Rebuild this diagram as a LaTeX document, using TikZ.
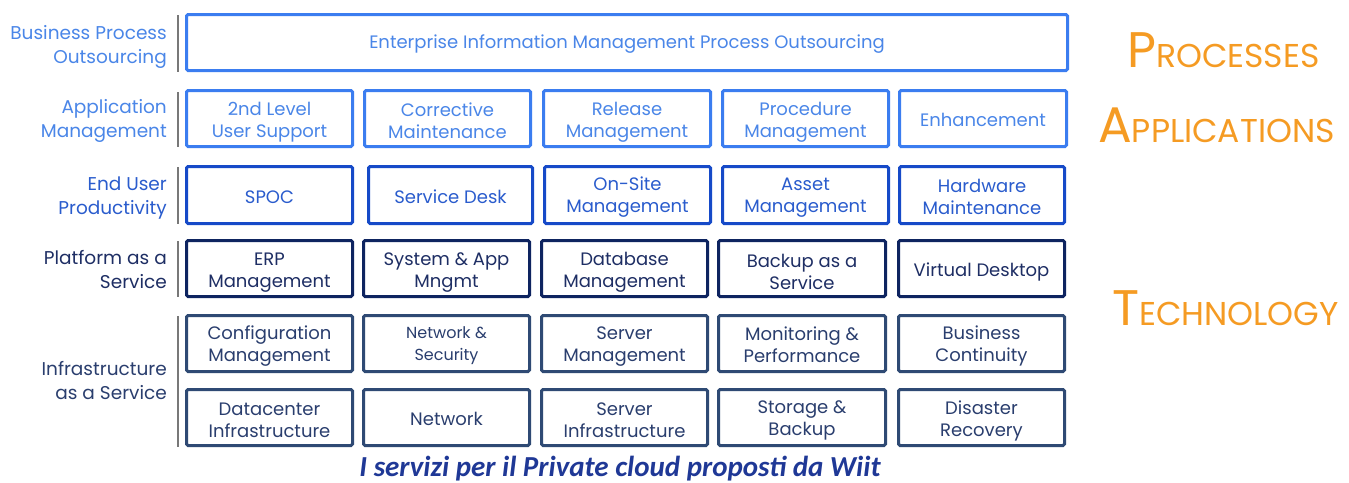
\documentclass[tikz,border=0pt]{standalone}
\usepackage{fontspec}
\setmainfont{Poppins}
\newfontfamily\capfont{Carlito}
\definecolor{bA}{RGB}{59,125,240}
\definecolor{tA}{RGB}{74,134,232}
\definecolor{bB}{RGB}{22,74,200}
\definecolor{tB}{RGB}{42,92,205}
\definecolor{bC}{RGB}{14,36,96}
\definecolor{tC}{RGB}{30,46,100}
\definecolor{bD}{RGB}{47,74,116}
\definecolor{tD}{RGB}{42,62,110}
\definecolor{sep}{RGB}{120,120,120}
\definecolor{orng}{RGB}{245,155,35}
\definecolor{capc}{RGB}{31,56,150}
% #1 name, #2-#5 corners, #6 text, #7 row colour key, #8 text shift down
\newcommand\cell[8]{%
  \node[cellbox,draw=b#7,minimum width={(#4-#2-3)*1pt},minimum height={(#5-#3-3)*1pt}] (#1) at ({(#2+#4)/2},{(#3+#5)/2}) {};
  \node[celltext,text=t#7] (#1t) at ([yshift=-#8pt]#1.center) {#6};}
\newcommand\bigsc[2]{{\fontsize{50}{50}\selectfont #1}{\fontsize{33}{33}\selectfont #2}}
\begin{document}
\begin{tikzpicture}[x=1pt,y=-1pt,
  cellbox/.style={draw,line width=3pt,rounded corners=1.5pt,inner sep=0pt},
  celltext/.style={inner sep=0pt,align=center,font=\fontsize{18}{22}\selectfont},
  sidelabel/.style={anchor=east,align=right,inner sep=0pt,font=\fontsize{18.5}{24}\selectfont},
  sepline/.style={draw=sep,line width=2pt},
  bigword/.style={anchor=base west,inner sep=0pt,text=orng}]
\useasboundingbox[fill=white] (0,0) rectangle (1349,482);
% row 1
\cell{bpo}{185}{13}{1069}{72}{Enterprise Information Management Process Outsourcing}{A}{2}
% row 2
\cell{am1}{185}{89}{354}{148}{2nd Level\\User Support}{A}{4}
\cell{am2}{363}{89}{532}{148}{Corrective\\Maintenance}{A}{2}
\cell{am3}{542}{89}{712}{148}{Release\\Management}{A}{4}
\cell{am4}{721}{89}{890}{148}{Procedure\\Management}{A}{4}
\cell{am5}{898}{89}{1068}{148}{Enhancement}{A}{1}
% row 3
\cell{eu1}{185}{165}{354}{225}{SPOC}{B}{2}
\cell{eu2}{367}{165}{534}{225}{Service Desk}{B}{2}
\cell{eu3}{543}{165}{712}{225}{On-Site\\Management}{B}{2}
\cell{eu4}{721}{165}{890}{225}{Asset\\Management}{B}{3}
\cell{eu5}{898}{165}{1066}{225}{Hardware\\Maintenance}{B}{2}
% row 4
\cell{pa1}{185}{239}{354}{298}{ERP\\Management}{C}{4}
\cell{pa2}{362}{239}{531}{298}{System \& App\\Mngmt}{C}{4}
\cell{pa3}{540}{239}{709}{298}{Database\\Management}{C}{4}
\cell{pa4}{717}{239}{887}{298}{Backup as a\\Service}{C}{3}
\cell{pa5}{897}{239}{1066}{298}{Virtual Desktop}{C}{3}
% row 5
\cell{ia1}{185}{314}{354}{373}{Configuration\\Management}{D}{3}
\cell{ia2}{362}{314}{531}{373}{{\fontsize{16}{21}\selectfont Network \&}\\{\fontsize{16}{21}\selectfont Security}}{D}{2}
\cell{ia3}{540}{314}{709}{373}{Server\\Management}{D}{3}
\cell{ia4}{717}{314}{887}{373}{Monitoring \&\\Performance}{D}{1}
\cell{ia5}{897}{314}{1066}{373}{Business\\Continuity}{D}{2}
% row 6
\cell{ib1}{185}{388}{354}{447}{Datacenter\\Infrastructure}{D}{3}
\cell{ib2}{362}{388}{531}{447}{Network}{D}{1}
\cell{ib3}{540}{388}{709}{447}{Server\\Infrastructure}{D}{3}
\cell{ib4}{717}{388}{887}{447}{Storage \&\\Backup}{D}{3}
\cell{ib5}{897}{388}{1066}{447}{Disaster\\Recovery}{D}{3}
% separators
\coordinate (s1a) at (178,15); \coordinate (s1b) at (178,72);
\coordinate (s2a) at (178,92); \coordinate (s2b) at (178,147);
\coordinate (s3a) at (178,167); \coordinate (s3b) at (178,224);
\coordinate (s4a) at (178,241); \coordinate (s4b) at (178,297);
\coordinate (s5a) at (178,316); \coordinate (s5b) at (178,447);
\draw[sepline] (s1a) -- (s1b);
\draw[sepline] (s2a) -- (s2b);
\draw[sepline] (s3a) -- (s3b);
\draw[sepline] (s4a) -- (s4b);
\draw[sepline] (s5a) -- (s5b);
% side labels
\node[sidelabel,text=tA] (lbpo) at (167,47) {Business Process\\Outsourcing};
\node[sidelabel,text=tA] (lam) at (167,121) {Application\\Management};
\node[sidelabel,text=tB] (leu) at (167,198) {End User\\Productivity};
\node[sidelabel,text=tC] (lpa) at (167,270) {Platform as a\\Service};
\node[sidelabel,text=tD] (lia) at (167,381) {Infrastructure\\as a Service};
% big words
\node[bigword] (wp) at (1127,67) {\bigsc{P}{ROCESSES}};
\node[bigword] (wa) at (1098,142) {\bigsc{A}{PPLICATIONS}};
\node[bigword] (wt) at (1112,325) {\bigsc{T}{ECHNOLOGY}};
% caption
\node[inner sep=0pt,text=capc,font=\capfont\bfseries\itshape\fontsize{29}{29}\selectfont] (cap) at (620,469) {I servizi per il Private cloud proposti da Wiit};
\end{tikzpicture}
\end{document}
